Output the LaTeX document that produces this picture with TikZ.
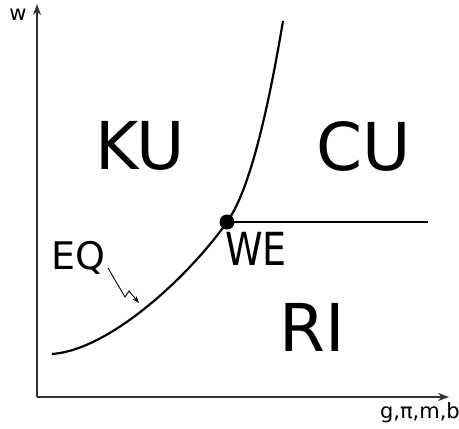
\documentclass[tikz,border=0pt]{standalone}
\usepackage{fontspec}
\setmainfont{DejaVu Sans}
\usetikzlibrary{arrows.meta}
\begin{document}
\begin{tikzpicture}[x=1pt,y=-1pt,
  axis/.style={draw=black!80,line width=1.8pt,-{Stealth[length=11pt,width=8pt]}},
  curve/.style={draw=black,line width=2.2pt},
  big/.style={font=\fontsize{66}{66}\selectfont,inner sep=0pt},
  mid/.style={font=\fontsize{38}{38}\selectfont,inner sep=0pt},
  small/.style={font=\fontsize{21}{21}\selectfont,inner sep=0pt}]
\useasboundingbox (0,0) rectangle (459,429);
\coordinate (O) at (37,397);
\coordinate (ytop) at (37,4);
\coordinate (xend) at (449,397);
\draw[axis] (O) -- (ytop);
\draw[axis] (O) -- (xend);
\node[small] (w) at (18,15) {w};
\node[small,anchor=base east] (xl) at (460,418) {g,π,m,b};
\coordinate (s) at (52,354);
\coordinate (we) at (227,222);
\coordinate (t) at (283,21);
\coordinate (hend) at (428,222);
\draw[curve] (s) .. controls (110,350) and (190,275) .. (we)
  .. controls (250,190) and (268,110) .. (t);
\draw[curve] (we) -- (hend);
\fill (we) circle (7.5);
\node[big] (KU) at (140,146) {KU};
\node[big] (CU) at (364,146) {CU};
\node[big] (RI) at (312,327) {RI};
\node[mid,anchor=north west,yscale=1.2] (WE) at (225,232) {WE};
\node[mid,anchor=south west] (EQ) at (51,275) {EQ};
\coordinate (z0) at (108,268);
\coordinate (z1) at (125,297);
\coordinate (z2) at (129,291);
\coordinate (z3) at (139,303);
\draw[line width=0.9pt,-{Stealth[length=7pt,width=5pt]}] (z0) -- (z1) -- (z2) -- (z3);
\end{tikzpicture}
\end{document}
